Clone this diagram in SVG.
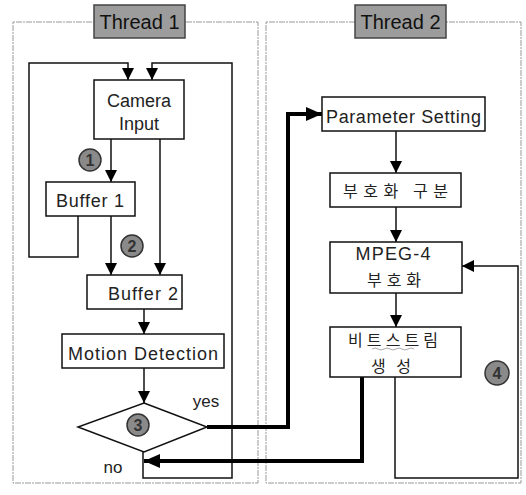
<svg xmlns="http://www.w3.org/2000/svg" width="526" height="495" viewBox="0 0 526 495">
<defs>
<style>
.box{fill:#fff;stroke:#111;stroke-width:1.5}
.t{font-family:"Liberation Sans","Noto Sans CJK KR",sans-serif;font-size:18px;fill:#222;text-anchor:middle}
.k{font-family:"Noto Sans CJK KR","Liberation Sans",sans-serif;font-size:16px;fill:#222;text-anchor:middle}
.ln{fill:none;stroke:#111;stroke-width:1.5}
.thick{fill:none;stroke:#000;stroke-width:4}
.frame{fill:none;stroke:#999;stroke-width:1;stroke-dasharray:2 1 6 1}
.lab{fill:#9c9c9c;stroke:#444;stroke-width:1.5}
.labt{font-family:"Liberation Sans",sans-serif;font-size:20px;fill:#111;text-anchor:middle}
.num{fill:#8a8a8a;stroke:#333;stroke-width:1.5}
.numt{font-family:"Liberation Sans",sans-serif;font-size:16px;font-weight:bold;fill:#333;text-anchor:middle}
</style>
<marker id="a" markerUnits="userSpaceOnUse" markerWidth="12" markerHeight="12" refX="12" refY="6" orient="auto"><path d="M0,0 L12,6 L0,12 Z" fill="#000"/></marker>
<marker id="b" markerUnits="userSpaceOnUse" markerWidth="16" markerHeight="14" refX="16" refY="7" orient="auto"><path d="M0,0 L16,7 L0,14 Z" fill="#000"/></marker>
</defs>

<g id="thread1-frame">
<rect class="frame" x="13" y="22" width="245" height="461"/>
<rect class="lab" x="94" y="5" width="91" height="33"/>
<text class="labt" x="139.5" y="29">Thread 1</text>
</g>
<g id="thread2-frame">
<rect class="frame" x="266" y="22" width="255" height="461"/>
<rect class="lab" x="355" y="5" width="91" height="33"/>
<text class="labt" x="400.5" y="29">Thread 2</text>
</g>

<g id="connectors">
<path class="ln" d="M78,216 V257 H29 V63 H128 V80" marker-end="url(#a)"/>
<path class="ln" d="M143,452 V478 H232 V63 H152 V80" marker-end="url(#a)"/>
<path class="ln" d="M111,139 V182" marker-end="url(#a)"/>
<path class="ln" d="M160,139 V275" marker-end="url(#a)"/>
<path class="ln" d="M111,216 V275" marker-end="url(#a)"/>
<path class="ln" d="M144,309 V334" marker-end="url(#a)"/>
<path class="ln" d="M144,368 V403" marker-end="url(#a)"/>
<path class="ln" d="M396,131 V173" marker-end="url(#a)"/>
<path class="ln" d="M396,207 V242" marker-end="url(#a)"/>
<path class="ln" d="M396,293 V327" marker-end="url(#a)"/>
<path class="ln" d="M395,377 V478 H518 V266 H462" marker-end="url(#a)"/>
<path class="thick" d="M207,427 H288 V114 H322" marker-end="url(#b)"/>
<path class="thick" d="M362,377 V461 H144" marker-end="url(#b)"/>
</g>

<g id="camera">
<rect class="box" x="94" y="80" width="90" height="59"/>
<text class="t" x="139" y="107">Camera</text>
<text class="t" x="139" y="130">Input</text>
</g>
<g id="buffer1">
<rect class="box" x="46" y="182" width="89" height="34"/>
<text class="t" x="90" y="207" textLength="68">Buffer 1</text>
</g>
<g id="buffer2">
<rect class="box" x="87" y="275" width="95" height="34"/>
<text class="t" x="143" y="300" textLength="70">Buffer 2</text>
</g>
<g id="motion">
<rect class="box" x="62" y="334" width="162" height="34"/>
<text class="t" x="143" y="360" textLength="150">Motion Detection</text>
</g>
<g id="decision">
<path class="box" d="M144,403 L207,427 L144,452 L78,427 Z"/>
</g>
<g id="param">
<rect class="box" x="322" y="97" width="163" height="34"/>
<text class="t" x="403.5" y="123" textLength="155">Parameter Setting</text>
</g>
<g id="classify">
<rect class="box" x="330" y="173" width="131" height="34"/>
<text class="k" x="395.5" y="197" textLength="105">부호화 구분</text>
</g>
<g id="mpeg4">
<rect class="box" x="330" y="242" width="132" height="51"/>
<text class="t" x="393" y="260" textLength="75">MPEG-4</text>
<text class="k" x="394" y="286" textLength="54">부호화</text>
</g>
<g id="bitstream">
<rect class="box" x="330" y="327" width="131" height="50"/>
<text class="k" x="393" y="346" textLength="90">비트스트림</text>
<path d="M372,349 q3,-2 6,0 t6,0 t6,0 t6,0 t6,0 t6,0 t6,0" fill="none" stroke="#aaa" stroke-width="1"/>
<text class="k" x="391" y="372" textLength="40">생성</text>
</g>

<g id="badge1"><circle class="num" cx="90" cy="160" r="11"/><text class="numt" x="90" y="166">1</text></g>
<g id="badge2"><circle class="num" cx="132" cy="246" r="11"/><text class="numt" x="132" y="252">2</text></g>
<g id="badge3"><circle class="num" cx="138" cy="425" r="11"/><text class="numt" x="138" y="431">3</text></g>
<g id="badge4"><circle class="num" cx="497" cy="373" r="12"/><text class="numt" x="497" y="379">4</text></g>

<g id="labels">
<text class="t" x="206" y="407" style="font-size:17px">yes</text>
<text class="t" x="113" y="473" style="font-size:17px">no</text>
</g>
</svg>
